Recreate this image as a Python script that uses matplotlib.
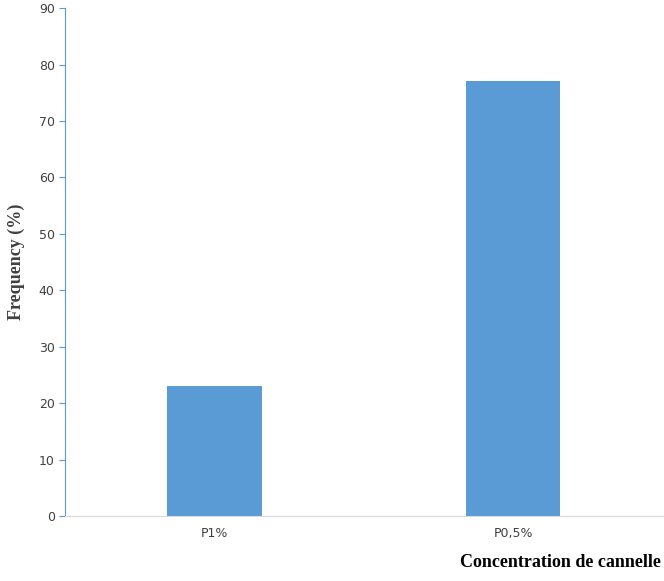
import matplotlib
matplotlib.use("Agg")
import matplotlib.pyplot as plt

categories = ["P1%", "P0,5%"]
values = [23, 77]

fig = plt.figure(figsize=(6.64, 5.81), dpi=100)
ax = fig.add_axes([0.098, 0.112, 0.9, 0.874])
ax.bar(range(len(categories)), values, width=0.315, color="#5b9bd5")
ax.set_xlim(-0.5, 1.5)
ax.set_ylim(0, 90)
ax.set_yticks(range(0, 91, 10))
ax.set_xticks(range(len(categories)))
ax.set_xticklabels(categories)
ax.tick_params(axis="both", labelsize=9, colors="#404040")
ax.tick_params(axis="x", length=0, pad=8)
ax.tick_params(axis="y", length=4, color="#5b9bd5")
for s in ["top", "right"]:
    ax.spines[s].set_visible(False)
ax.spines["left"].set_color("#5b9bd5")
ax.spines["bottom"].set_color("#d9d9d9")
fig.text(0.025, 0.55, "Frequency (%)", rotation=90, ha="center", va="center",
         fontsize=13, fontweight="bold", family="Liberation Serif", color="#404040")
fig.text(0.995, 0.018, "Concentration de cannelle", ha="right", va="bottom",
         fontsize=13, fontweight="bold", family="Liberation Serif")
fig.savefig("out.png", dpi=100)
